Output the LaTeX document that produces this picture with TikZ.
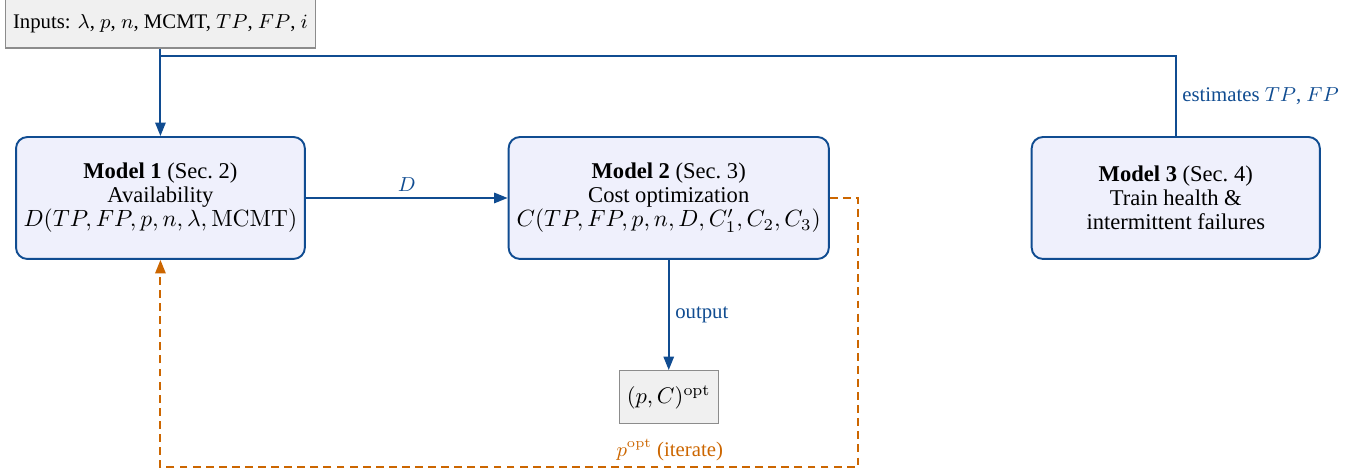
\documentclass[tikz,border=0pt]{standalone}
\usepackage[no-math]{fontspec}
\setmainfont{Liberation Serif}
\usepackage{amsmath}
\usepackage{graphicx}
\usetikzlibrary{positioning,arrows.meta}
\definecolor{mblue}{RGB}{16,76,145}
\definecolor{morange}{RGB}{204,102,0}
\definecolor{mfill}{RGB}{239,240,252}
\newcommand{\fml}[1]{\scalebox{1.04}{$#1$}}

\begin{document}
\begin{tikzpicture}[
  font=\fontsize{10}{10.6}\selectfont,
  model/.style={draw=mblue,fill=mfill,line width=0.85pt,rounded corners=5pt,align=center,minimum height=1.90cm,inner sep=2pt},
  io/.style={draw=black!45,fill=black!6,line width=0.5pt,inner sep=3.3pt},
  >={Triangle[length=6pt,width=4.6pt]},
  flow/.style={->,mblue,line width=0.85pt},
  back/.style={->,morange,line width=0.85pt,dash pattern=on 3.5pt off 2.3pt},
  lbl/.style={font=\fontsize{9.2}{10}\selectfont,inner sep=2.5pt}
]
\useasboundingbox (0,0) rectangle (21.30,-7.40);

% ---------------- inputs and result ----------------
\node[io,minimum height=0.75cm,font=\fontsize{9.2}{10}\selectfont] (inp) at (2.5,-0.374)
  {Inputs: $\lambda$, $p$, $n$, MCMT, $TP$, $FP$, $i$};
\node[io,minimum width=1.53cm,minimum height=0.83cm] (opt) at (10.42,-6.19) {$(p,C)^{\mathrm{opt}}$};

% ---------------- models ----------------
\node[model,minimum width=4.50cm] (m1) at (2.5,-3.085)
  {\textbf{Model 1} (Sec.~2)\\Availability\\\fml{D(TP,FP,p,n,\lambda,\mathrm{MCMT})}};
\node[model,minimum width=4.99cm] (m2) at (10.42,-3.085)
  {\textbf{Model 2} (Sec.~3)\\Cost optimization\\\fml{C(TP,FP,p,n,D,C_1',C_2,C_3)}};
\node[model,minimum width=4.49cm] (m3) at (18.32,-3.085)
  {\textbf{Model 3} (Sec.~4)\\Train health \&\\intermittent failures};

% ---------------- connectors ----------------
\coordinate (split) at (2.5,-0.873);
\coordinate (loop) at (13.37,-7.28);
\draw[flow] (inp.south) -- (m1.north);
\draw[mblue,line width=0.85pt] (m3.north) -- node[lbl,right]{estimates $TP$, $FP$} (m3.north |- split) -- (split);
\draw[flow] (m1) -- node[lbl,above]{$D$} (m2);
\draw[flow] (m2) -- node[lbl,right]{output} (opt);
\draw[back] (m2.east) -| (loop) -- node[lbl,above,pos=0.27,text=morange]{$p^{\mathrm{opt}}$ (iterate)} (m1 |- loop) -- (m1.south);
\end{tikzpicture}
\end{document}
